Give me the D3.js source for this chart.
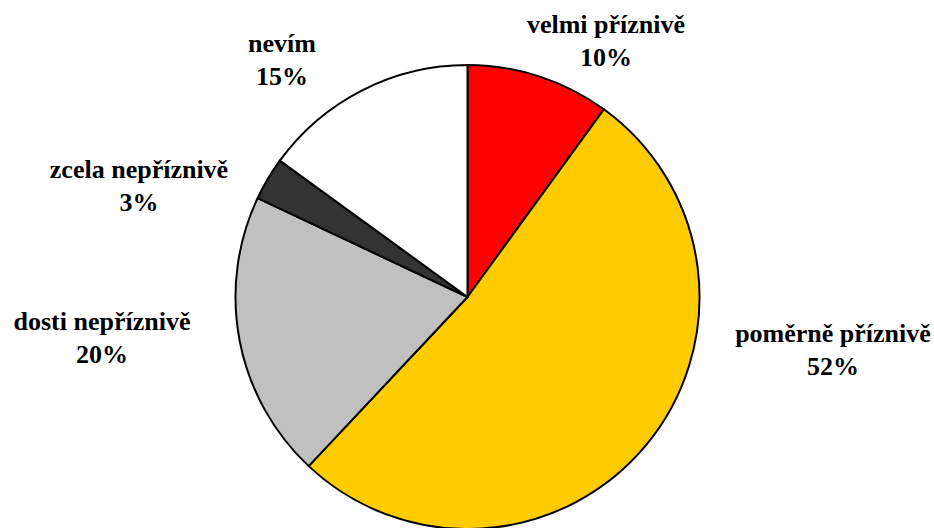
<!DOCTYPE html>
<html>
<head>
<meta charset="utf-8">
<script src="https://cdn.jsdelivr.net/npm/d3@7"></script>
<style>
  body { margin: 0; background: #fff; }
  text { font-family: "Liberation Serif", "Times New Roman", serif; font-weight: bold; font-size: 26px; fill: #000; }
</style>
</head>
<body>
<script>
// data
var labels = ['velmi příznivě', 'poměrně příznivě', 'dosti nepříznivě', 'zcela nepříznivě', 'nevím'];
var values = [10, 52, 20, 3, 15];
var colors = ['#ff0000', '#ffcc00', '#c0c0c0', '#333333', '#ffffff'];

// label anchors (center x, first-line baseline), as placed in the original
var labelPos = [[606, 33], [833, 342], [102, 330], [139, 178], [282, 52]];

var svg = d3.select('body').append('svg')
  .attr('width', 934)
  .attr('height', 528);

var cx = 467.5, cy = 297, r = 232;

var pie = d3.pie().sort(null).value(function (d) { return d; });
var arc = d3.arc().innerRadius(0).outerRadius(r);

var g = svg.append('g').attr('transform', 'translate(' + cx + ',' + cy + ')');

g.selectAll('path')
  .data(pie(values))
  .enter().append('path')
  .attr('d', arc)
  .attr('fill', function (d, i) { return colors[i]; })
  .attr('stroke', '#000')
  .attr('stroke-width', 2)
  .attr('stroke-linejoin', 'round');

var lab = svg.append('g')
  .selectAll('text')
  .data(labels)
  .enter().append('text')
  .attr('text-anchor', 'middle')
  .attr('x', function (d, i) { return labelPos[i][0]; })
  .attr('y', function (d, i) { return labelPos[i][1]; });

lab.append('tspan')
  .text(function (d) { return d; });

lab.append('tspan')
  .attr('x', function (d, i) { return labelPos[i][0]; })
  .attr('dy', 33)
  .text(function (d, i) { return values[i] + '%'; });
</script>
</body>
</html>
